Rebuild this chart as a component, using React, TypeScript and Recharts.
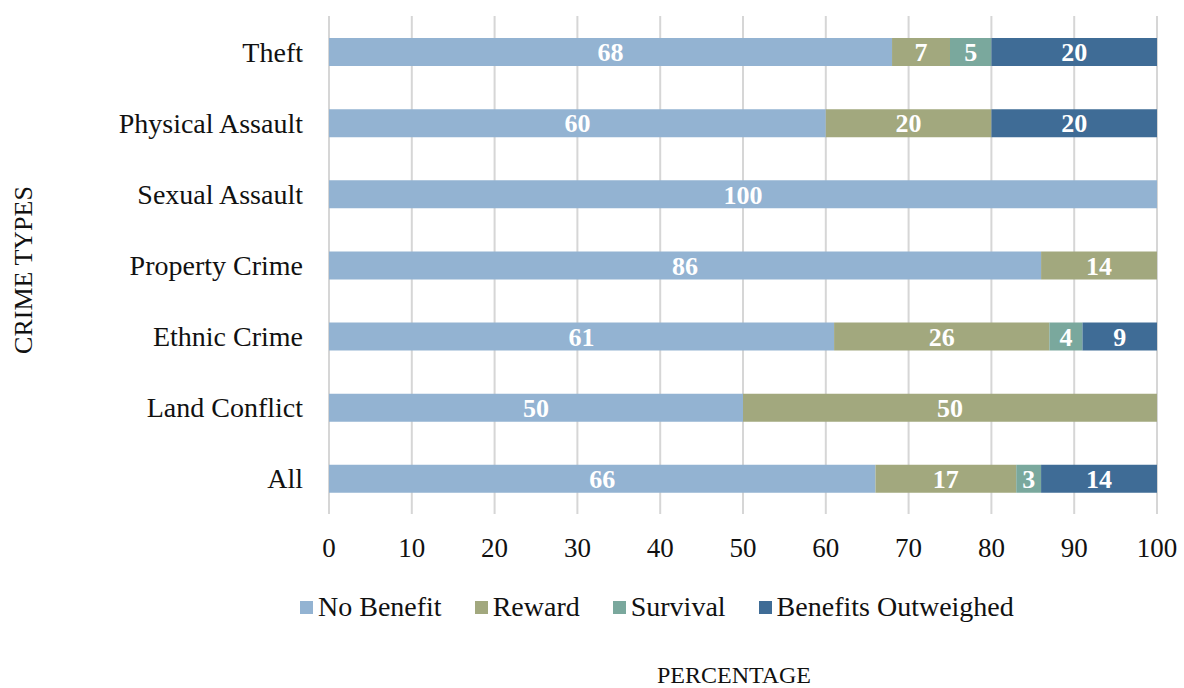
import React from "react";
import { BarChart, Bar, XAxis, YAxis, CartesianGrid, Legend, LabelList } from "recharts";

const categories = ["Theft", "Physical Assault", "Sexual Assault", "Property Crime", "Ethnic Crime", "Land Conflict", "All"];
const noBenefit = [68, 60, 100, 86, 61, 50, 66];
const reward = [7, 20, 0, 14, 26, 50, 17];
const survival = [5, 0, 0, 0, 4, 0, 3];
const benefitsOutweighed = [20, 20, 0, 0, 9, 0, 14];
const xTicks = [0, 10, 20, 30, 40, 50, 60, 70, 80, 90, 100];

const seriesDefs = [
  { key: "noBenefit", name: "No Benefit", color: "#93B3D2" },
  { key: "reward", name: "Reward", color: "#A2A87E" },
  { key: "survival", name: "Survival", color: "#7AA89D" },
  { key: "benefitsOutweighed", name: "Benefits Outweighed", color: "#3F6C96" },
];

const data = categories.map((c, i) => ({
  category: c,
  noBenefit: noBenefit[i],
  reward: reward[i],
  survival: survival[i],
  benefitsOutweighed: benefitsOutweighed[i],
}));

const FONT = '"Liberation Serif", "Times New Roman", serif';

const LegendContent = () => (
  <div style={{ display: "flex", alignItems: "center", height: 34, fontFamily: FONT, fontSize: 28, lineHeight: "34px", color: "#111" }}>
    {seriesDefs.map((s) => (
      <div key={s.key} style={{ display: "flex", alignItems: "center", marginRight: 33 }}>
        <span style={{ display: "inline-block", width: 13, height: 13, background: s.color, marginRight: 5 }} />
        <span>{s.name}</span>
      </div>
    ))}
  </div>
);

const hideZero = (v: any) => (v ? v : "");

export default function App() {
  return (
    <div style={{ position: "absolute", left: 0, top: 0, width: 1184, height: 688, background: "#fff" }}>
      <BarChart
        width={1184}
        height={688}
        data={data}
        layout="vertical"
        margin={{ top: 16, right: 27, left: 0, bottom: 0 }}
      >
        <CartesianGrid horizontal={false} stroke="#d6d6d6" strokeWidth={2} />
        <XAxis
          type="number"
          domain={[0, 100]}
          ticks={xTicks}
          interval={0}
          axisLine={false}
          tickLine={false}
          tickSize={0}
          tickMargin={24}
          height={140}
          tick={{ fontFamily: FONT, fontSize: 27, fill: "#111" }}
          label={{
            content: (props: any) => {
              const vb = props.viewBox;
              return (
                <text
                  x={vb.x + vb.width / 2 - 9}
                  y={vb.y + vb.height + 29}
                  textAnchor="middle"
                  fontFamily={FONT}
                  fontSize={24}
                  fill="#111"
                >
                  PERCENTAGE
                </text>
              );
            },
          }}
        />
        <YAxis
          type="category"
          dataKey="category"
          width={329}
          axisLine={false}
          tickLine={false}
          tickSize={0}
          tickMargin={26}
          interval={0}
          tick={{ fontFamily: FONT, fontSize: 28, fill: "#111" }}
          label={{
            content: (props: any) => {
              const vb = props.viewBox;
              const cx = vb.x + 32;
              const cy = vb.y + vb.height / 2 + 5;
              return (
                <text
                  x={cx}
                  y={cy}
                  textAnchor="middle"
                  transform={`rotate(-90 ${cx} ${cy})`}
                  fontFamily={FONT}
                  fontSize={26}
                  fill="#111"
                >
                  CRIME TYPES
                </text>
              );
            },
          }}
        />
        <Legend
          verticalAlign="bottom"
          content={() => <LegendContent />}
          wrapperStyle={{ left: 300, top: 590, width: 900, height: 34 }}
        />
        {seriesDefs.map((s) => (
          <Bar key={s.key} dataKey={s.key} name={s.name} stackId="a" fill={s.color} barSize={28} isAnimationActive={false}>
            <LabelList
              dataKey={s.key}
              position="center"
              formatter={hideZero}
              fill="#fff"
              style={{ fontFamily: FONT, fontSize: 26, fontWeight: "bold", fill: "#fff" }}
            />
          </Bar>
        ))}
      </BarChart>
    </div>
  );
}
